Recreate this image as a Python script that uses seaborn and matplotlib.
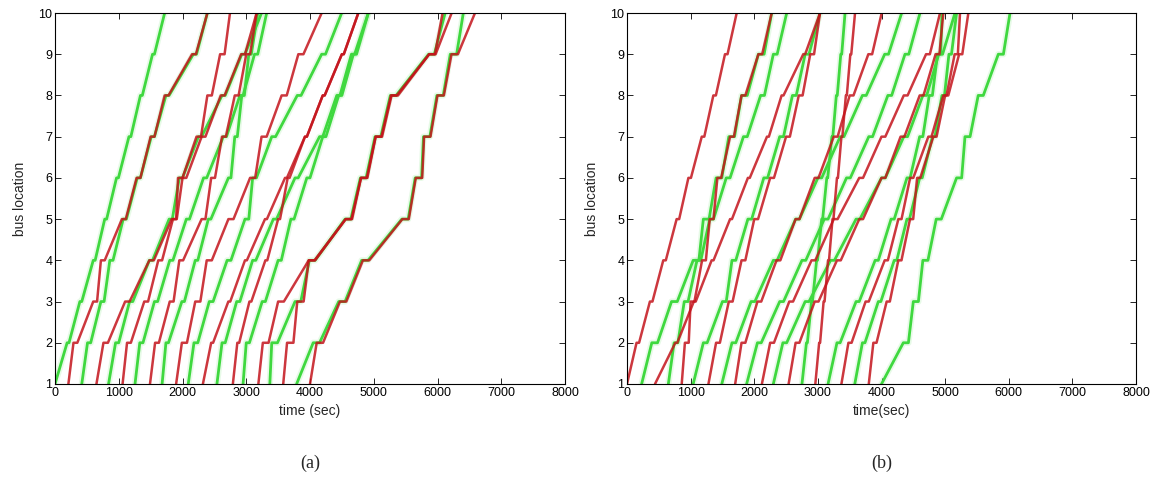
import matplotlib
matplotlib.use("Agg")
import matplotlib.pyplot as plt
import seaborn as sns
import pandas as pd

sns.set_theme(style="white")
plt.rcParams["font.family"] = ["Liberation Sans", "DejaVu Sans"]

stops = [1, 2, 3, 4, 5, 6, 7, 8, 9, 10]
x_ticks = [0, 1000, 2000, 3000, 4000, 5000, 6000, 7000, 8000]
y_ticks = [1, 2, 3, 4, 5, 6, 7, 8, 9, 10]

# ---- panel (a): arrival time (s) of each bus at stops 1..10 ----
a_green = [
    [0, 190, 390, 600, 780, 965, 1160, 1340, 1530, 1720],
    [420, 510, 720, 860, 1070, 1290, 1510, 1740, 2170, 2390],
    [840, 950, 1170, 1480, 1790, 1950, 2250, 2620, 2930, 3240],
    [1255, 1330, 1560, 1800, 2060, 2330, 2640, 2900, 3130, 3320],
    [1680, 1740, 1990, 2200, 2405, 2720, 2820, 2930, 3040, 3180],
    [2090, 2180, 2420, 2700, 2980, 3100, 3400, 3800, 4183, 4497],
    [2540, 2620, 2850, 3100, 3425, 3765, 4150, 4420, 4650, 4915],
    [2950, 3000, 3250, 3500, 3700, 3950, 4200, 4450, 4680, 4915],
    [3370, 3400, 3765, 3990, 4550, 4790, 5020, 5260, 5860, 6120],
    [3790, 4050, 4450, 4810, 5440, 5650, 5780, 5990, 6200, 6405],
]
a_green_dwell = [30, 50, 50, 50, 40, 60, 50, 50, 90, 100]
a_red = [
    [210, 290, 600, 720, 1050, 1280, 1500, 1720, 2150, 2390],
    [650, 760, 1100, 1480, 1830, 1930, 2220, 2390, 2590, 2745],
    [1060, 1130, 1400, 1620, 1850, 2000, 2300, 2600, 2920, 3163],
    [1490, 1570, 1800, 1950, 2300, 2450, 2620, 2820, 3000, 3163],
    [1900, 1990, 2200, 2380, 2720, 3060, 3240, 3555, 3817, 4183],
    [2320, 2450, 2719, 2980, 3294, 3608, 3921, 4200, 4500, 4758],
    [2790, 2860, 3050, 3300, 3500, 3650, 3921, 4200, 4500, 4758],
    [3190, 3260, 3500, 3980, 4560, 4800, 5030, 5270, 5870, 6080],
    [3580, 3640, 3800, 3980, 4560, 4800, 5030, 5280, 5870, 6222],
    [4000, 4105, 4470, 4830, 5450, 5660, 5790, 6000, 6220, 6588],
]
a_red_dwell = [60, 70, 60, 60, 80, 30, 30, 90, 100, 100]

# ---- panel (b) ----
b_green = [
    [230, 390, 700, 1040, 1200, 1400, 1600, 1800, 2065, 2274],
    [650, 740, 900, 1100, 1300, 1560, 1830, 2100, 2300, 2510],
    [1040, 1200, 1500, 1650, 1900, 2150, 2400, 2600, 2800, 3034],
    [1490, 1650, 1950, 2300, 2650, 3000, 3350, 3700, 4050, 4317],
    [1880, 2050, 2400, 2750, 3100, 3450, 3800, 4100, 4369, 4605],
    [2300, 2450, 2800, 3200, 3600, 4000, 4350, 4650, 4900, 5155],
    [2750, 2820, 2900, 2980, 3060, 3140, 3220, 3290, 3360, 3427],
    [3160, 3300, 3600, 3900, 4150, 4400, 4600, 4750, 4880, 4950],
    [3580, 3700, 3950, 4200, 4400, 4600, 4800, 4950, 5060, 5180],
    [4000, 4343, 4500, 4650, 4860, 5180, 5312, 5520, 5836, 6020],
]
b_green_dwell = [90, 60, 60, 60, 60, 60, 15, 50, 40, 80]
b_red = [
    [0, 150, 360, 570, 780, 965, 1175, 1357, 1540, 1724],
    [440, 760, 1050, 1330, 1620, 1900, 2200, 2430, 2770, 3034],
    [860, 910, 1000, 1180, 1300, 1420, 1620, 1800, 2065, 2274],
    [1280, 1400, 1600, 1800, 2000, 2250, 2500, 2700, 2880, 3034],
    [1700, 1800, 2050, 2350, 2650, 2950, 3250, 3500, 3793, 4003],
    [2120, 2250, 2550, 2900, 3250, 3650, 4000, 4350, 4700, 4920],
    [2540, 2650, 2950, 3300, 3650, 4000, 4300, 4600, 4850, 4972],
    [2960, 3020, 3090, 3160, 3230, 3300, 3370, 3440, 3510, 3584],
    [3370, 3480, 3750, 4050, 4265, 4450, 4736, 4972, 5150, 5234],
    [3800, 3872, 4081, 4264, 4448, 4560, 4815, 5000, 5220, 5365],
]
b_red_dwell = [40, 30, 60, 60, 60, 60, 60, 15, 50, 50]


def paths(trips, dwells):
    rows = []
    for i, (arr, d) in enumerate(zip(trips, dwells)):
        order = 0
        for k, (t, s) in enumerate(zip(arr, stops)):
            rows.append((i, order, t, s)); order += 1
            if 0 < k < len(stops) - 1:
                rows.append((i, order, t + d, s)); order += 1
    return pd.DataFrame(rows, columns=["bus", "order", "time", "loc"])


GREEN = "#3fd83f"
RED = "#c4141c"

fig = plt.figure(figsize=(11.58, 4.92), dpi=100)
ax_a = fig.add_axes([55 / 1158, 1 - 384 / 492, 510 / 1158, 371 / 492])
ax_b = fig.add_axes([627 / 1158, 1 - 384 / 492, 509 / 1158, 371 / 492])

panels = [
    (ax_a, a_green, a_green_dwell, a_red, a_red_dwell, "time (sec)", "(a)"),
    (ax_b, b_green, b_green_dwell, b_red, b_red_dwell, "time(sec)", "(b)"),
]
for ax, g, gd, r, rd, xl, cap in panels:
    dg = paths(g, gd)
    dr = paths(r, rd)
    # soft halo like the original's blurred strokes
    sns.lineplot(data=dg, x="time", y="loc", units="bus", estimator=None,
                 sort=False, color=GREEN, lw=4.5, alpha=0.12, ax=ax, legend=False)
    sns.lineplot(data=dg, x="time", y="loc", units="bus", estimator=None,
                 sort=False, color=GREEN, lw=2.0, ax=ax, legend=False)
    sns.lineplot(data=dr, x="time", y="loc", units="bus", estimator=None,
                 sort=False, color=RED, lw=1.8, alpha=0.85, ax=ax, legend=False)
    ax.set_xlim(0, 8000)
    ax.set_ylim(1, 10)
    ax.set_xticks(x_ticks)
    ax.set_yticks(y_ticks)
    ax.tick_params(direction="in", length=4, width=0.6, labelsize=9,
                   top=True, right=True, bottom=True, left=True, pad=2,
                   colors="black")
    for sp in ax.spines.values():
        sp.set_visible(True)
        sp.set_color("black")
        sp.set_linewidth(0.8)
    ax.set_xlabel(xl, fontsize=10, labelpad=4)
    ax.set_ylabel("bus location", fontsize=10, labelpad=8)
    ax.text(0.5, -0.213, cap, transform=ax.transAxes, ha="center", va="center",
            fontsize=13, family=["Liberation Serif", "DejaVu Serif"])

fig.savefig("out.png", dpi=100, facecolor="white")
